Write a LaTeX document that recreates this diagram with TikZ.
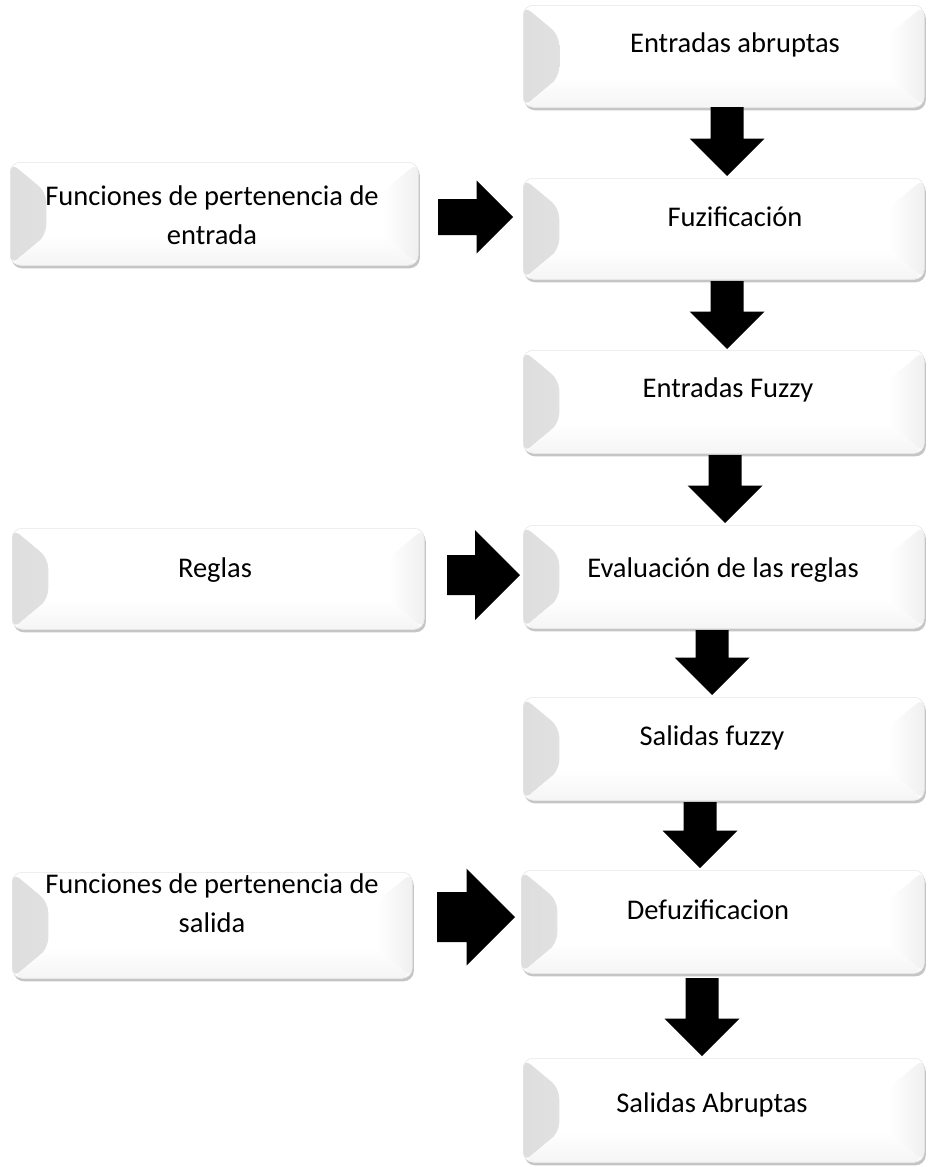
\documentclass[tikz,border=0pt]{standalone}
\usepackage{fontspec}
\setmainfont{Carlito}
\usetikzlibrary{shadows,calc}
\newcommand{\varrow}[5]{% cx, ytop, ytip, headw, shaftw
  \fill[black] (#1-#5/2,#2) -- (#1+#5/2,#2) -- (#1+#5/2,#3-#4/2) -- (#1+#4/2,#3-#4/2) -- (#1,#3) -- (#1-#4/2,#3-#4/2) -- (#1-#5/2,#3-#4/2) -- cycle;}
\newcommand{\harrow}[5]{% xleft, xtip, cy, headw, shaftw
  \fill[black] (#1,#3-#5/2) -- (#2-#4/2,#3-#5/2) -- (#2-#4/2,#3-#4/2) -- (#2,#3) -- (#2-#4/2,#3+#4/2) -- (#2-#4/2,#3+#5/2) -- (#1,#3+#5/2) -- cycle;}
\begin{document}
\begin{tikzpicture}[x=1pt,y=-1pt,
  box/.style={draw=black!10, line width=0.5pt, fill=white, rounded corners=10pt,
    inner sep=0pt, anchor=north west,
    drop shadow={shadow xshift=1.5pt, shadow yshift=-3pt, fill=black!45, opacity=0.5},
    path picture={
      \fill[left color=black!13, right color=white]
        (path picture bounding box.north west) -- ($(path picture bounding box.north west)+(36,30)$)
        -- ($(path picture bounding box.south west)+(36,-30)$) -- (path picture bounding box.south west) -- cycle;
      \fill[left color=white, right color=black!6]
        (path picture bounding box.north east) -- ($(path picture bounding box.north east)+(-36,30)$)
        -- ($(path picture bounding box.south east)+(-36,-30)$) -- (path picture bounding box.south east) -- cycle;
      \fill[top color=white, bottom color=black!4]
        ($(path picture bounding box.south west)+(36,-30)$) -- ($(path picture bounding box.south east)+(-36,-30)$)
        -- (path picture bounding box.south east) -- (path picture bounding box.south west) -- cycle;
    }},
  lbl/.style={font=\fontsize{28.5}{39}\selectfont, align=center, inner sep=0pt, text=black}
]
\useasboundingbox (0,0) rectangle (927,1167);
\fill[white] (0,0) rectangle (927,1167);

% right column boxes
\node[box, minimum width=401pt, minimum height=102pt] (b1) at (523,5) {};
\node[box, minimum width=401pt, minimum height=101pt] (b2) at (523,178) {};
\node[box, minimum width=401pt, minimum height=103pt] (b3) at (523,350) {};
\node[box, minimum width=401pt, minimum height=103pt] (b4) at (523,525) {};
\node[box, minimum width=401pt, minimum height=103pt] (b5) at (523,697) {};
\node[box, minimum width=403pt, minimum height=103pt] (b6) at (521,870) {};
\node[box, minimum width=401pt, minimum height=104pt] (b7) at (523,1058) {};
% left column boxes
\node[box, minimum width=408pt, minimum height=103pt] (l1) at (10,162) {};
\node[box, minimum width=412pt, minimum height=101pt] (l2) at (12,528) {};
\node[box, minimum width=400pt, minimum height=106pt] (l3) at (12,872) {};

% texts
\node[lbl] (t1) at (735,45) {Entradas abruptas};
\node[lbl] (t2) at (735,217) {Fuzificación};
\node[lbl] (t3) at (728,390) {Entradas Fuzzy};
\node[lbl] (t4) at (723,570) {Evaluación de las reglas};
\node[lbl] (t5) at (712,738) {Salidas fuzzy};
\node[lbl] (t6) at (708,910) {Defuzificacion};
\node[lbl] (t7) at (712,1105) {Salidas Abruptas};
\node[lbl] (tl1) at (212,215) {Funciones de pertenencia de\\entrada};
\node[lbl] (tl2) at (215,570) {Reglas};
\node[lbl] (tl3) at (212,903) {Funciones de pertenencia de\\salida};

% vertical block arrows
\varrow{727}{107}{176}{75}{33}
\varrow{727}{281}{349}{75}{33}
\varrow{725}{455}{523}{75}{33}
\varrow{712}{630}{695}{75}{33}
\varrow{700}{802}{868}{75}{33}
\varrow{702}{978}{1056}{75}{33}
% horizontal block arrows
\harrow{438}{513}{217}{73}{36}
\harrow{447}{520}{575}{90}{40}
\harrow{437}{515}{917}{97}{50}
\end{tikzpicture}
\end{document}
